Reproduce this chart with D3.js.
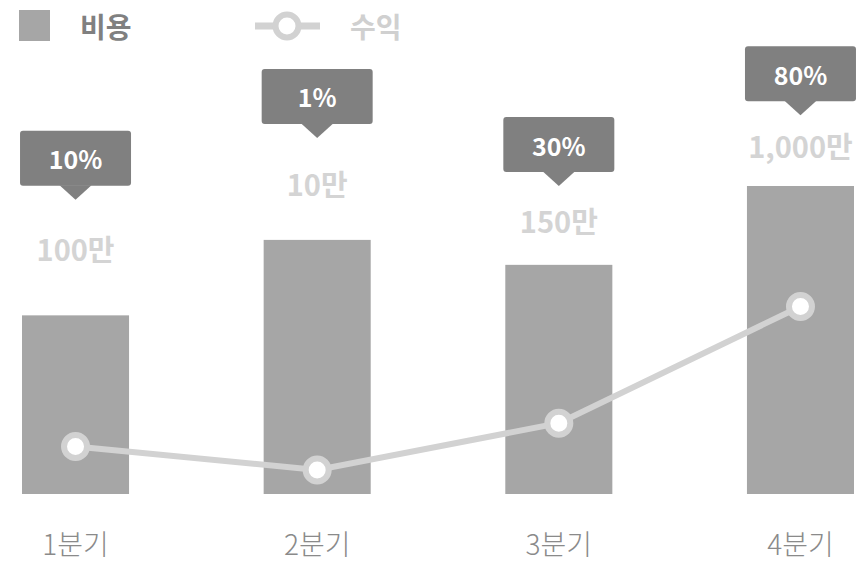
<!DOCTYPE html>
<html><head><meta charset="utf-8">
<script src="https://cdn.jsdelivr.net/npm/d3@7"></script>
<style>
html,body{margin:0;padding:0;background:#fff;}
svg{display:block;font-family:"Noto Sans CJK KR","Noto Sans",sans-serif;}
</style></head>
<body><svg id="c" width="858" height="562"></svg>
<script>
const categories = ["1분기","2분기","3분기","4분기"];
const costValues = [58, 82.5, 74.4, 100];          // 비용 (bars)
const revenueValues = [15.4, 7.8, 23, 60.9];       // 수익 (line)
const amountLabels = ["100만","10만","150만","1,000만"];
const amountLevels = [80, 101, 89, 113.3];
const percentLabels = ["10%","1%","30%","80%"];
const percentLevels = [95.5, 115.6, 100, 123];
const legendLabels = ["비용","수익"];

const svg = d3.select("#c");
const x = d3.scaleBand().domain(categories).range([22, 854]).paddingInner(0.557).paddingOuter(0);
const y = d3.scaleLinear().domain([0, 100]).range([494, 186]);
const cx = d => x(d) + x.bandwidth()/2;

// bars
svg.append("g").selectAll("rect").data(categories).join("rect")
  .attr("x", d => x(d)).attr("width", x.bandwidth())
  .attr("y", (d,i) => y(costValues[i])).attr("height", (d,i) => y(0) - y(costValues[i]))
  .attr("fill", "#a6a6a6");

// line
const line = d3.line().x((d,i) => cx(categories[i])).y(d => y(d));
svg.append("path").datum(revenueValues).attr("d", line)
  .attr("fill","none").attr("stroke","#d2d2d2").attr("stroke-width",6);
svg.append("g").selectAll("circle").data(revenueValues).join("circle")
  .attr("cx", (d,i) => cx(categories[i])).attr("cy", d => y(d))
  .attr("r", 11.5).attr("fill","#fff").attr("stroke","#d2d2d2").attr("stroke-width",6);

// amount labels
svg.append("g").selectAll("text").data(amountLabels).join("text")
  .attr("x", (d,i) => cx(categories[i])).attr("y", (d,i) => y(amountLevels[i]))
  .attr("text-anchor","middle").attr("dominant-baseline","central")
  .attr("font-size", 29).attr("font-weight", 700).attr("fill", "#d4d4d4")
  .text(d => d);

// callouts
const bw = 111, bh = 55, th = 14, tw = 16;
const cg = svg.append("g").selectAll("g").data(percentLabels).join("g")
  .attr("transform", (d,i) => `translate(${cx(categories[i])},${y(percentLevels[i])})`);
cg.append("rect").attr("x", -bw/2).attr("y", -th - bh).attr("width", bw).attr("height", bh)
  .attr("rx", 3).attr("fill", "#808080");
cg.append("path").attr("d", `M${-tw},${-th - 0.5}L0,0L${tw},${-th - 0.5}Z`).attr("fill","#808080");
cg.append("text").attr("x", 0).attr("y", -th - bh/2).attr("text-anchor","middle")
  .attr("dominant-baseline","central").attr("font-size", 25).attr("font-weight", 700)
  .attr("fill", "#fff").text(d => d);

// x axis labels
const xa = svg.append("g").attr("transform", "translate(0,543)")
  .call(d3.axisBottom(x).tickSize(0).tickPadding(0));
xa.select(".domain").remove();
xa.selectAll("text").attr("font-size", 28).attr("font-weight", 300).attr("fill", "#8a8a8a")
  .attr("dy", null).attr("dominant-baseline","central")
  .attr("font-family", '"Noto Sans CJK KR",sans-serif');

// legend
const lg = svg.append("g");
lg.append("rect").attr("x", 19).attr("y", 10).attr("width", 31).attr("height", 31).attr("fill", "#a6a6a6");
lg.append("text").attr("x", 80).attr("y", 26).attr("dominant-baseline","central")
  .attr("font-size", 28).attr("font-weight", 700).attr("fill", "#808080").text(legendLabels[0]);
lg.append("line").attr("x1", 255).attr("x2", 320).attr("y1", 26).attr("y2", 26)
  .attr("stroke", "#d2d2d2").attr("stroke-width", 7);
lg.append("circle").attr("cx", 287).attr("cy", 26).attr("r", 11.5)
  .attr("fill", "#fff").attr("stroke", "#d2d2d2").attr("stroke-width", 6);
lg.append("text").attr("x", 350).attr("y", 26).attr("dominant-baseline","central")
  .attr("font-size", 28).attr("font-weight", 700).attr("fill", "#d0d0d0").text(legendLabels[1]);
</script></body></html>
